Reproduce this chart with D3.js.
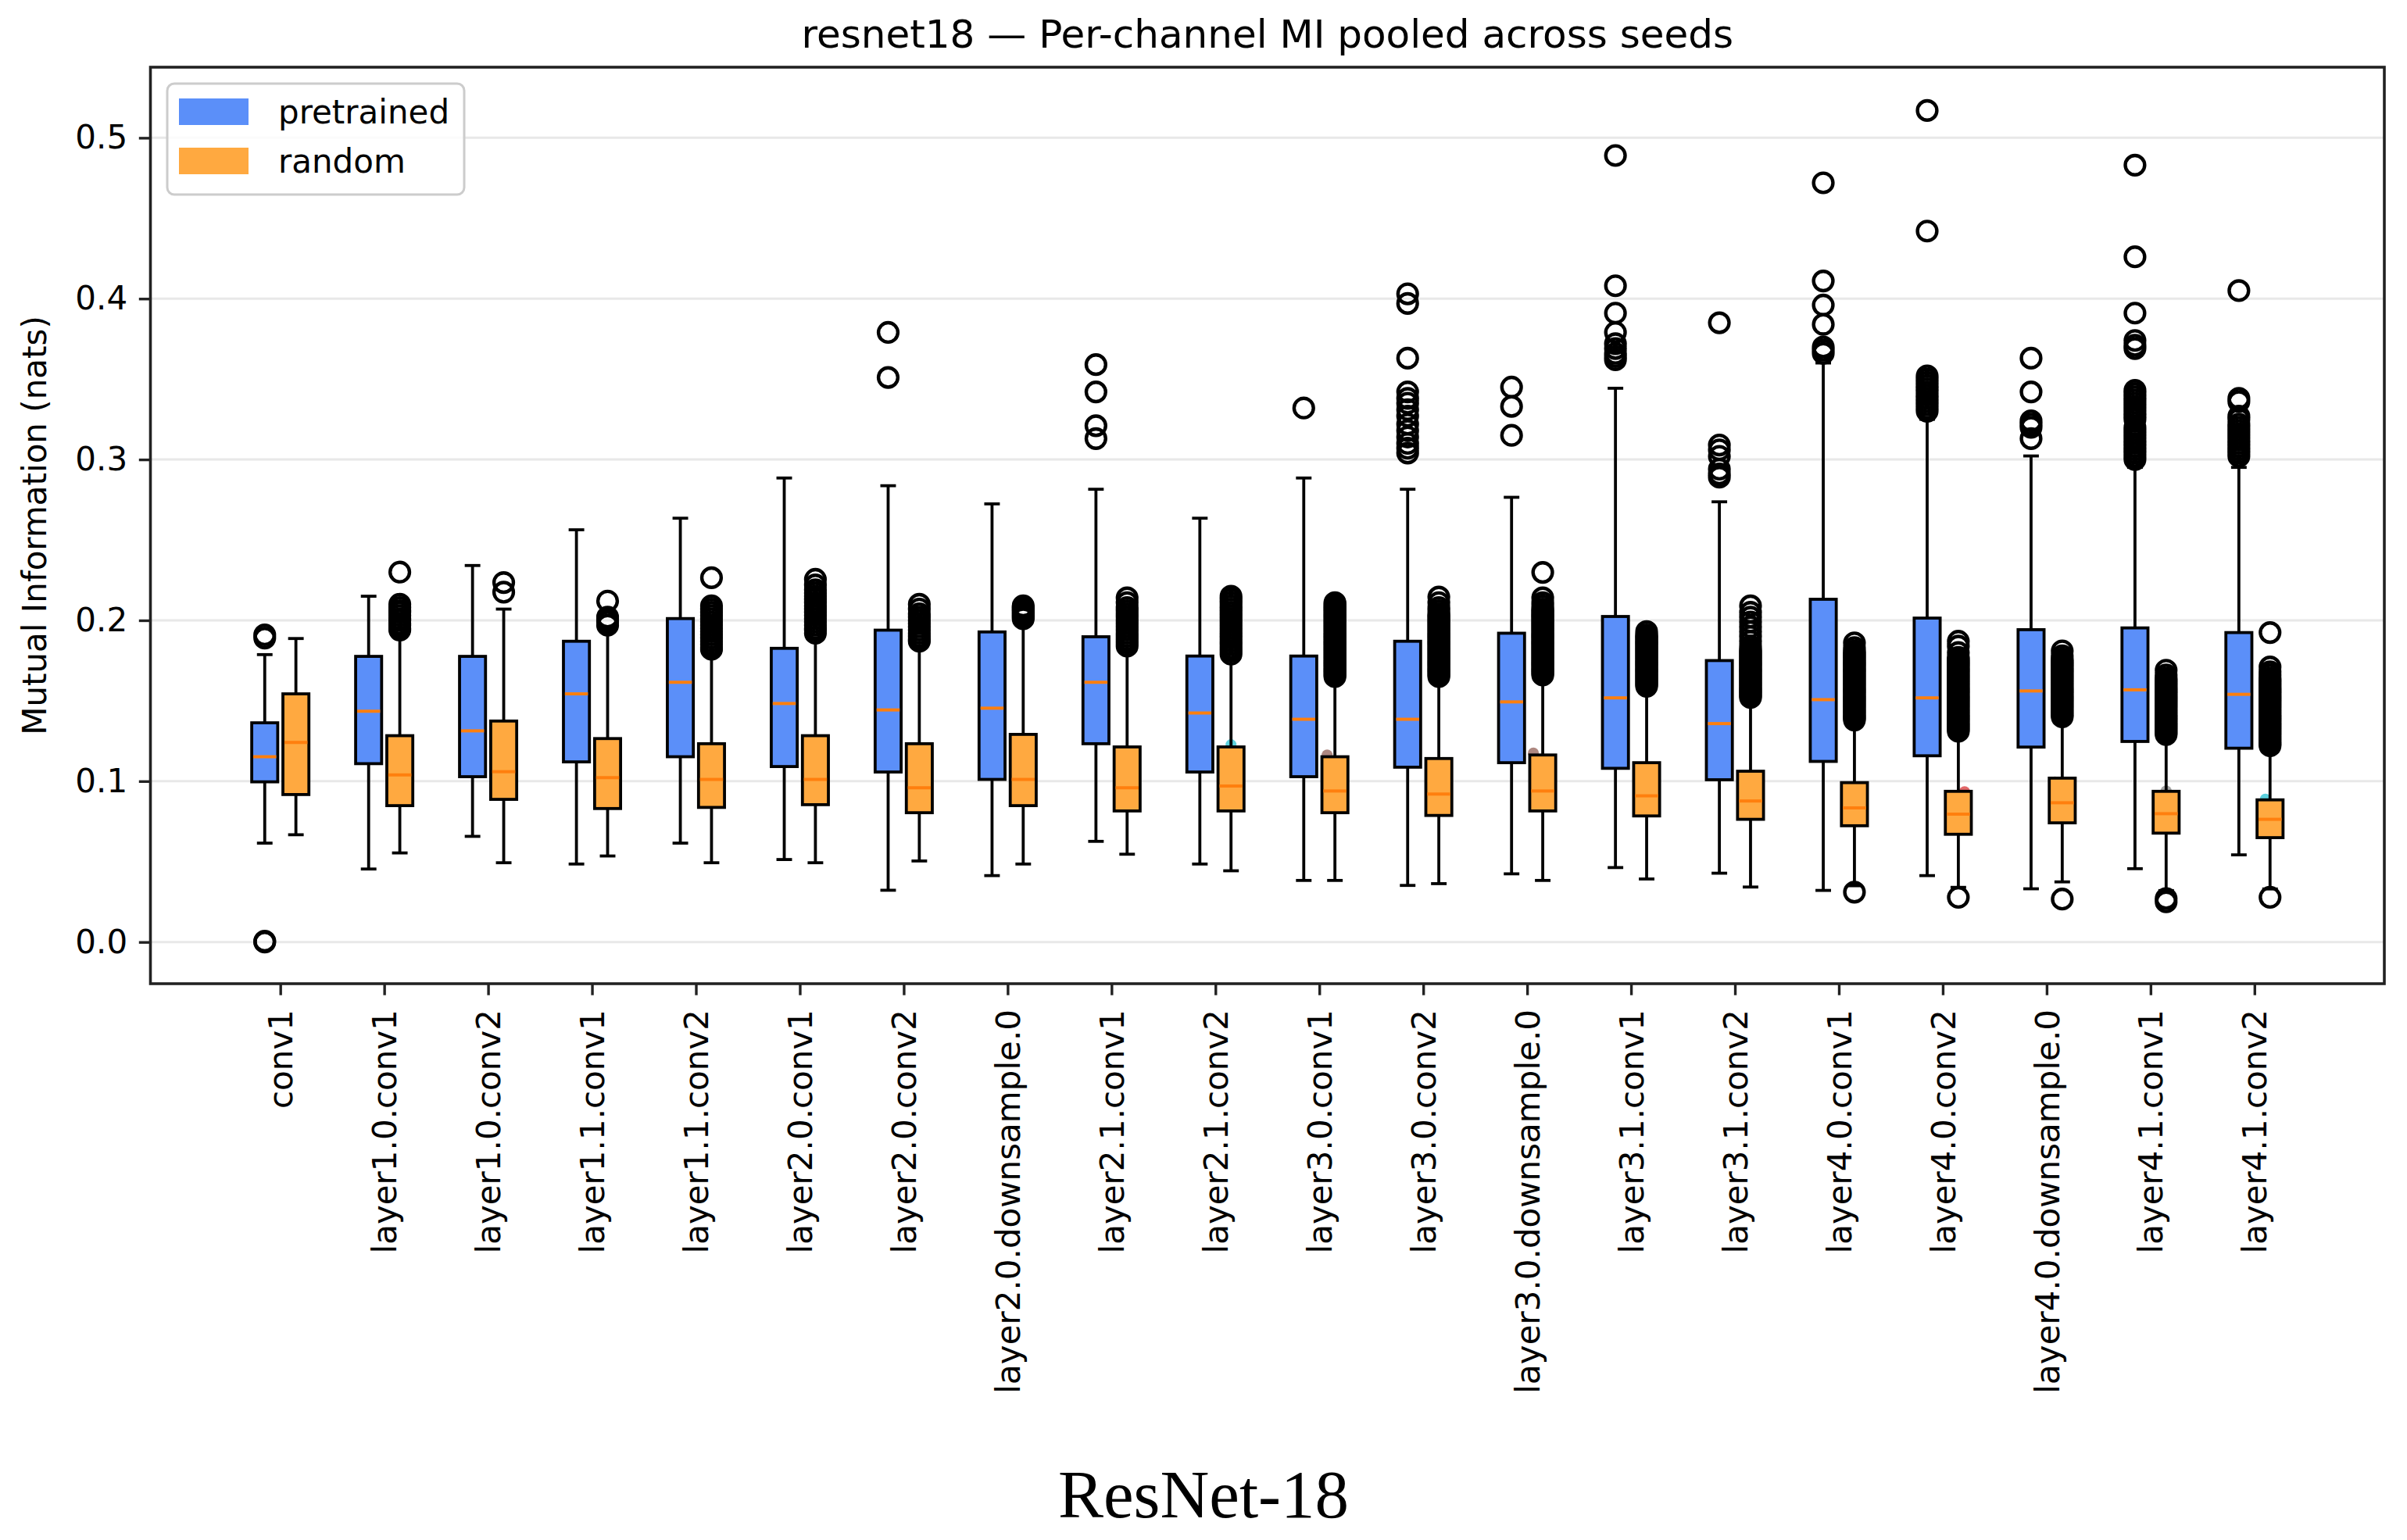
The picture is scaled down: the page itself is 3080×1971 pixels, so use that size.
<!DOCTYPE html>
<html>
<head>
<meta charset="utf-8">
<script src="https://cdn.jsdelivr.net/npm/d3@7"></script>
<style>
  html, body { margin: 0; padding: 0; background: #ffffff; }
  svg { display: block; }
</style>
</head>
<body>
<svg id="chart" width="3080" height="1971"></svg>
<script>
const categories = ["conv1","layer1.0.conv1","layer1.0.conv2","layer1.1.conv1","layer1.1.conv2",
  "layer2.0.conv1","layer2.0.conv2","layer2.0.downsample.0","layer2.1.conv1","layer2.1.conv2",
  "layer3.0.conv1","layer3.0.conv2","layer3.0.downsample.0","layer3.1.conv1","layer3.1.conv2",
  "layer4.0.conv1","layer4.0.conv2","layer4.0.downsample.0","layer4.1.conv1","layer4.1.conv2"];

const seriesNames = ["pretrained", "random"];
const yTicks = [0.0, 0.1, 0.2, 0.3, 0.4, 0.5];

// pretrained: [whisker low, Q1, median, Q3, whisker high]
const pretrainedStats = [
  [0.0615,0.0996,0.1152,0.1363,0.1787],
  [0.0454,0.1109,0.1435,0.1776,0.2150],
  [0.0657,0.1028,0.1313,0.1776,0.2341],
  [0.0485,0.1120,0.1543,0.1870,0.2563],
  [0.0615,0.1152,0.1615,0.2011,0.2635],
  [0.0513,0.1091,0.1483,0.1826,0.2885],
  [0.0322,0.1057,0.1443,0.1939,0.2837],
  [0.0413,0.1011,0.1454,0.1928,0.2724],
  [0.0626,0.1233,0.1615,0.1898,0.2815],
  [0.0485,0.1057,0.1424,0.1778,0.2635],
  [0.0383,0.1028,0.1385,0.1778,0.2885],
  [0.0352,0.1087,0.1385,0.1870,0.2815],
  [0.0424,0.1115,0.1493,0.1920,0.2765],
  [0.0463,0.1080,0.1518,0.2024,0.3443],
  [0.0428,0.1009,0.1358,0.1750,0.2737],
  [0.0321,0.1123,0.1507,0.2131,0.3600],
  [0.0413,0.1158,0.1518,0.2014,0.3250],
  [0.0331,0.1212,0.1561,0.1942,0.3022],
  [0.0456,0.1247,0.1568,0.1953,0.2951],
  [0.0542,0.1205,0.1540,0.1924,0.2951]
];
const randomStats = [
  [0.0667,0.0917,0.1241,0.1543,0.1887],
  [0.0554,0.0848,0.1039,0.1283,0.1900],
  [0.0493,0.0887,0.1059,0.1374,0.2070],
  [0.0535,0.0830,0.1022,0.1265,0.1930],
  [0.0493,0.0837,0.1011,0.1233,0.1780],
  [0.0493,0.0854,0.1011,0.1283,0.1880],
  [0.0504,0.0804,0.0959,0.1233,0.1830],
  [0.0485,0.0848,0.1011,0.1291,0.1980],
  [0.0546,0.0815,0.0959,0.1213,0.1810],
  [0.0443,0.0815,0.0970,0.1213,0.1760],
  [0.0383,0.0804,0.0939,0.1152,0.1620],
  [0.0363,0.0787,0.0920,0.1141,0.1630],
  [0.0383,0.0815,0.0939,0.1163,0.1630],
  [0.0392,0.0784,0.0909,0.1115,0.1560],
  [0.0342,0.0763,0.0877,0.1062,0.1490],
  [0.0350,0.0723,0.0834,0.0991,0.1350],
  [0.0340,0.0670,0.0795,0.0937,0.1290],
  [0.0374,0.0741,0.0866,0.1019,0.1370],
  [0.0320,0.0677,0.0798,0.0937,0.1260],
  [0.0330,0.0649,0.0763,0.0884,0.1190]
];

const pretrainedOutliers = [
  [0.191,0.189,0.0,0.0005],
  [], [], [], [], [],
  [0.379,0.351],
  [],
  [0.359,0.342,0.321,0.313],
  [],
  [0.332],
  [0.403,0.397,0.363,0.342,0.338,0.335,0.331,0.327,0.322,0.318,0.314,0.310,0.307,0.304],
  [0.345,0.333,0.315],
  [0.489,0.408,0.391,0.379,0.372,0.369,0.366,0.364,0.362],
  [0.385,0.309,0.306,0.302,0.294,0.291,0.289],
  [0.472,0.411,0.396,0.384,0.370,0.368,0.366],
  [0.517,0.442,0.352,0.350,0.348,0.346,0.344,0.342,0.340,0.338,0.336,0.334,0.332,0.330],
  [0.363,0.342,0.324,0.322,0.320,0.313],
  [0.483,0.426,0.391,0.374,0.371,0.369,0.343,0.341,0.339,0.337,0.335,0.333,0.331,0.329,0.327,0.325,0.320,0.318,0.316,0.314,0.312,0.310,0.308,0.306,0.304,0.302,0.300],
  [0.405,0.338,0.336,0.327,0.325,0.322,0.320,0.318,0.316,0.314,0.312,0.310,0.308,0.306,0.304,0.302]
];
const randomOutliers = [
  [],
  [0.230,0.210,0.208,0.206,0.205,0.203,0.201,0.200,0.198,0.197,0.195,0.194],
  [0.2235,0.2175],
  [0.212,0.202,0.201,0.200,0.199,0.197],
  [0.2265,0.209,0.207,0.205,0.203,0.201,0.199,0.197,0.195,0.193,0.191,0.189,0.187,0.185,0.183,0.182],
  [0.2255,0.222,0.219,0.217,0.215,0.213,0.211,0.209,0.207,0.205,0.203,0.201,0.199,0.197,0.195,0.194,0.192],
  [0.210,0.207,0.204,0.202,0.200,0.198,0.196,0.194,0.192,0.190,0.188,0.187],
  [0.209,0.208,0.207,0.206,0.205,0.204,0.203,0.202,0.201],
  [0.214,0.211,0.208,0.206,0.204,0.202,0.200,0.198,0.196,0.194,0.192,0.190,0.188,0.186,0.184],
  [0.215,0.213,0.211,0.209,0.207,0.205,0.203,0.201,0.199,0.197,0.195,0.193,0.191,0.189,0.187,0.185,0.183,0.181,0.179],
  [0.211,0.210,0.209,0.208,0.207,0.206,0.205,0.204,0.203,0.202,0.201,0.200,0.199,0.198,0.197,0.196,0.195,0.194,0.193,0.192,0.191,0.190,0.189,0.188,0.187,0.186,0.185,0.184,0.183,0.182,0.181,0.180,0.179,0.178,0.177,0.176,0.175,0.174,0.173,0.172,0.171,0.170,0.169,0.168,0.167,0.166,0.165],
  [0.2145,0.211,0.208,0.206,0.204,0.203,0.202,0.201,0.200,0.199,0.198,0.197,0.196,0.195,0.194,0.193,0.192,0.191,0.190,0.189,0.188,0.187,0.186,0.185,0.184,0.183,0.182,0.181,0.180,0.179,0.178,0.177,0.176,0.175,0.174,0.173,0.172,0.171,0.170,0.169,0.168,0.167,0.166,0.165],
  [0.2298,0.214,0.211,0.209,0.207,0.206,0.205,0.204,0.203,0.202,0.201,0.200,0.199,0.198,0.197,0.196,0.195,0.194,0.193,0.192,0.191,0.190,0.189,0.188,0.187,0.186,0.185,0.184,0.183,0.182,0.181,0.180,0.179,0.178,0.177,0.176,0.175,0.174,0.173,0.172,0.171,0.170,0.169,0.168,0.167,0.166],
  [0.193,0.191,0.190,0.189,0.188,0.187,0.186,0.185,0.184,0.183,0.182,0.181,0.180,0.179,0.178,0.177,0.176,0.175,0.174,0.173,0.172,0.171,0.170,0.169,0.168,0.167,0.166,0.165,0.164,0.163,0.162,0.161,0.160,0.159],
  [0.209,0.205,0.202,0.199,0.196,0.193,0.190,0.187,0.184,0.182,0.181,0.180,0.179,0.178,0.177,0.176,0.175,0.174,0.173,0.172,0.171,0.170,0.169,0.168,0.167,0.166,0.165,0.164,0.163,0.162,0.161,0.160,0.159,0.158,0.157,0.156,0.155,0.154,0.153,0.152],
  [0.186,0.183,0.181,0.180,0.179,0.178,0.177,0.176,0.175,0.174,0.173,0.172,0.171,0.170,0.169,0.168,0.167,0.166,0.165,0.164,0.163,0.162,0.161,0.160,0.159,0.158,0.157,0.156,0.155,0.154,0.153,0.152,0.151,0.150,0.149,0.148,0.147,0.146,0.145,0.144,0.143,0.142,0.141,0.140,0.139,0.138,0.031],
  [0.187,0.184,0.180,0.177,0.176,0.175,0.174,0.173,0.172,0.171,0.170,0.169,0.168,0.167,0.166,0.165,0.164,0.163,0.162,0.161,0.160,0.159,0.158,0.157,0.156,0.155,0.154,0.153,0.152,0.151,0.150,0.149,0.148,0.147,0.146,0.145,0.144,0.143,0.142,0.141,0.140,0.139,0.138,0.137,0.136,0.135,0.134,0.133,0.132,0.131,0.0278],
  [0.181,0.178,0.176,0.175,0.174,0.173,0.172,0.171,0.170,0.169,0.168,0.167,0.166,0.165,0.164,0.163,0.162,0.161,0.160,0.159,0.158,0.157,0.156,0.155,0.154,0.153,0.152,0.151,0.150,0.149,0.148,0.147,0.146,0.145,0.144,0.143,0.142,0.141,0.140,0.0267],
  [0.169,0.166,0.164,0.163,0.162,0.161,0.160,0.159,0.158,0.157,0.156,0.155,0.154,0.153,0.152,0.151,0.150,0.149,0.148,0.147,0.146,0.145,0.144,0.143,0.142,0.141,0.140,0.139,0.138,0.137,0.136,0.135,0.134,0.133,0.132,0.131,0.130,0.129,0.027,0.025],
  [0.1924,0.171,0.168,0.166,0.164,0.163,0.162,0.161,0.160,0.159,0.158,0.157,0.156,0.155,0.154,0.153,0.152,0.151,0.150,0.149,0.148,0.147,0.146,0.145,0.144,0.143,0.142,0.141,0.140,0.139,0.138,0.137,0.136,0.135,0.134,0.133,0.132,0.131,0.130,0.129,0.128,0.127,0.126,0.125,0.124,0.123,0.122,0.0278]
];

// small per-seed markers peeking out above some random boxes: [category index, x offset (category units), value, color]
const seedMarkers = [
  [9, 0.00, 0.1227, "#17becf"],
  [10, -0.075, 0.1163, "#8c564b"],
  [12, -0.09, 0.1175, "#8c564b"],
  [16, 0.06, 0.0935, "#d62728"],
  [17, -0.07, 0.0995, "#8c564b"],
  [18, 0.00, 0.0940, "#7f7f7f"],
  [19, -0.045, 0.0889, "#17becf"]
];

const seriesColors = ["#5b8ff9", "#ffa940"];
const medianColor = "#ff7f0e";

const svg = d3.select("#chart");
const L = 192.5, R = 3051, T = 86, B = 1259;
const x = d3.scaleLinear().domain([-1.25, categories.length + 0.25]).range([L, R]);
const y = d3.scaleLinear().domain([-0.0259, 0.5439]).range([B, T]);
const unit = x(1) - x(0);
const offsets = [-0.15, 0.15];
const boxW = 0.25 * unit, capW = 0.15 * unit;
const font = "DejaVu Sans, sans-serif";
const lw = 3.8;

// grid
svg.append("g").selectAll("line").data(yTicks).join("line")
  .attr("x1", L).attr("x2", R).attr("y1", d => y(d)).attr("y2", d => y(d))
  .attr("stroke", "#e8e8e8").attr("stroke-width", 3);

// seed markers (behind boxes)
svg.append("g").selectAll("circle").data(seedMarkers).join("circle")
  .attr("cx", d => x(d[0] + 0.15 + d[1])).attr("cy", d => y(d[2])).attr("r", 7)
  .attr("fill", d => d[3]).attr("fill-opacity", 0.7);

const allStats = [pretrainedStats, randomStats];
const allOut = [pretrainedOutliers, randomOutliers];
const plot = svg.append("g");
allStats.forEach((stats, s) => {
  const g = plot.append("g");
  stats.forEach((st, i) => {
    const cx = x(i + offsets[s]);
    const [lo, q1, med, q3, hi] = st;
    g.append("line").attr("x1", cx).attr("x2", cx).attr("y1", y(q3)).attr("y2", y(hi))
      .attr("stroke", "#000").attr("stroke-width", lw);
    g.append("line").attr("x1", cx).attr("x2", cx).attr("y1", y(q1)).attr("y2", y(lo))
      .attr("stroke", "#000").attr("stroke-width", lw);
    [lo, hi].forEach(v => g.append("line")
      .attr("x1", cx - capW / 2).attr("x2", cx + capW / 2).attr("y1", y(v)).attr("y2", y(v))
      .attr("stroke", "#000").attr("stroke-width", lw));
    g.append("rect").attr("x", cx - boxW / 2).attr("width", boxW)
      .attr("y", y(q3)).attr("height", y(q1) - y(q3))
      .attr("fill", seriesColors[s]).attr("stroke", "#000").attr("stroke-width", lw);
    g.append("line").attr("x1", cx - boxW / 2 + lw / 2).attr("x2", cx + boxW / 2 - lw / 2)
      .attr("y1", y(med)).attr("y2", y(med))
      .attr("stroke", medianColor).attr("stroke-width", 4);
    g.selectAll(null).data(allOut[s][i]).join("circle")
      .attr("cx", cx).attr("cy", d => y(d)).attr("r", 12.4)
      .attr("fill", "none").attr("stroke", "#000").attr("stroke-width", 4.4);
  });
});

// axes
const yAxis = svg.append("g").attr("transform", `translate(${L},0)`)
  .call(d3.axisLeft(y).tickValues(yTicks).tickFormat(d3.format(".1f")).tickSize(14.7).tickPadding(14.7));
const xAxis = svg.append("g").attr("transform", `translate(0,${B})`)
  .call(d3.axisBottom(x).tickValues(d3.range(categories.length)).tickFormat(i => categories[i]).tickSize(14.7).tickPadding(14.7));
[yAxis, xAxis].forEach(a => {
  a.select(".domain").remove();
  a.selectAll(".tick line").attr("stroke", "#222").attr("stroke-width", 3.4);
  a.selectAll("text").attr("font-family", font).attr("font-size", 42).attr("fill", "#000");
});
xAxis.selectAll("text")
  .attr("transform", "rotate(-90)")
  .attr("x", -33).attr("y", 0).attr("dy", "0.36em")
  .attr("text-anchor", "end");

// spines
svg.append("rect").attr("x", L).attr("y", T).attr("width", R - L).attr("height", B - T)
  .attr("fill", "none").attr("stroke", "#222").attr("stroke-width", 3.6);

// y label
svg.append("text").attr("transform", `translate(59,${(T + B) / 2}) rotate(-90)`)
  .attr("text-anchor", "middle").attr("font-family", font).attr("font-size", 42)
  .text("Mutual Information (nats)");

// title
svg.append("text").attr("x", (L + R) / 2).attr("y", 61).attr("text-anchor", "middle")
  .attr("font-family", font).attr("font-size", 50)
  .text("resnet18 \u2014 Per-channel MI pooled across seeds");

// legend
const lg = svg.append("g");
lg.append("rect").attr("x", 214).attr("y", 107).attr("width", 380).attr("height", 142).attr("rx", 9)
  .attr("fill", "#fff").attr("fill-opacity", 0.8).attr("stroke", "#cccccc").attr("stroke-width", 3);
seriesNames.forEach((name, k) => {
  const yy = 126 + k * 63;
  lg.append("rect").attr("x", 229).attr("y", yy).attr("width", 89).attr("height", 34)
    .attr("fill", seriesColors[k]);
  lg.append("text").attr("x", 356).attr("y", yy + 32).attr("font-family", font).attr("font-size", 42)
    .text(name);
});

// caption
svg.append("text").attr("x", 1540).attr("y", 1942).attr("text-anchor", "middle")
  .attr("font-family", "Liberation Serif, Times New Roman, serif").attr("font-size", 87)
  .text("ResNet-18");
</script>
</body>
</html>
